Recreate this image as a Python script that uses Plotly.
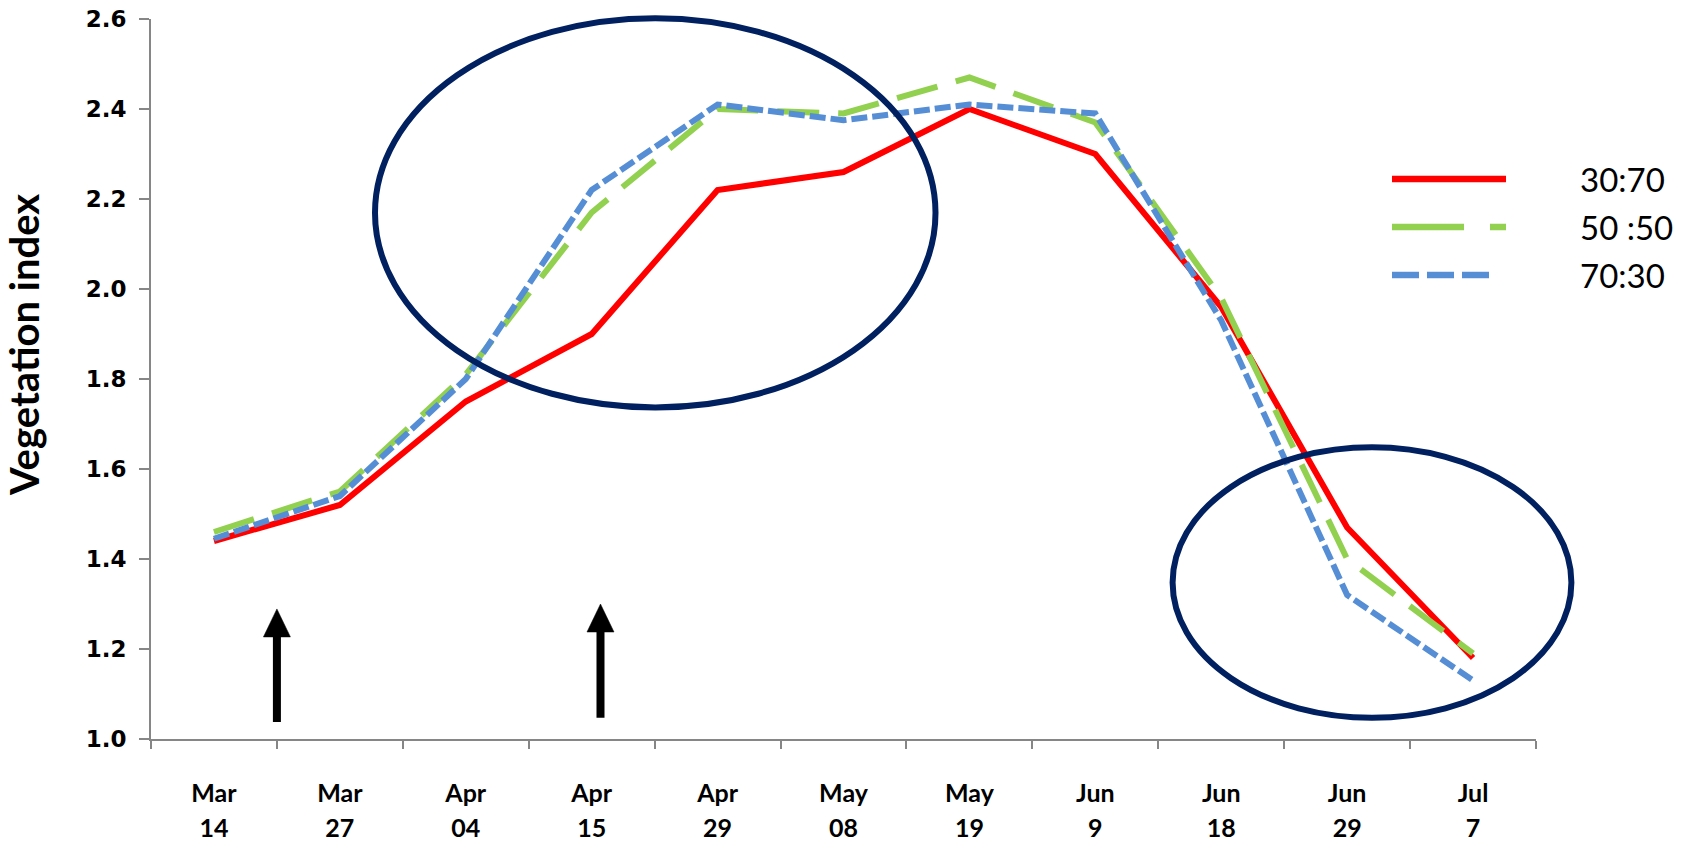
import plotly.graph_objects as go

# Sampling dates and vegetation index for three mixing ratios
dates = ["Mar 14", "Mar 27", "Apr 04", "Apr 15", "Apr 29", "May 08",
         "May 19", "Jun 9", "Jun 18", "Jun 29", "Jul 7"]
months = [d.split()[0] for d in dates]
days = [d.split()[1] for d in dates]

ratio_30_70 = [1.44, 1.52, 1.75, 1.90, 2.22, 2.26, 2.40, 2.30, 1.96, 1.47, 1.18]
ratio_50_50 = [1.46, 1.55, 1.81, 2.17, 2.40, 2.39, 2.47, 2.37, 1.98, 1.40, 1.19]
ratio_70_30 = [1.445, 1.54, 1.80, 2.22, 2.41, 2.375, 2.41, 2.39, 1.93, 1.32, 1.13]

series_names = ["30:70", "50 :50", "70:30"]
y_ticks = [1.0, 1.2, 1.4, 1.6, 1.8, 2.0, 2.2, 2.4, 2.6]

# Arrow markers: (category position, base value, tip value)
arrows = [(0.5, 1.038, 1.289), (3.07, 1.047, 1.300)]

# ---- layout geometry ----
W, H = 1690, 842
ML, MR, MT, MB = 151, 154, 19, 103
PW, PH = W - ML - MR, H - MT - MB
Y0, Y1 = 1.0, 2.6
NCAT = len(dates)

RED, GREEN, BLUE, NAVY = "#FF0000", "#92D050", "#558ED5", "#002060"
AXIS_GREY = "#868686"
LW = 6


def px_x(px):
    return (px - ML) / PW


def px_y(py):
    return (MT + PH - py) / PH


def cat_x(i):
    return (i + 0.5) / NCAT


def val_y(v):
    return (v - Y0) / (Y1 - Y0)


fig = go.Figure()

styles = [
    dict(color=RED, width=LW, dash="solid"),
    dict(color=GREEN, width=LW, dash="42px,19px"),
    dict(color=BLUE, width=LW, dash="16px,5px"),
]
for name, vals, st in zip(series_names, [ratio_30_70, ratio_50_50, ratio_70_30], styles):
    fig.add_trace(go.Scatter(x=dates, y=vals, name=name, mode="lines",
                             line=st, showlegend=False))

# Empty trace that carries the second (day-number) label row
fig.add_trace(go.Scatter(x=list(range(NCAT)), y=[None] * NCAT, xaxis="x2",
                         mode="lines", showlegend=False, hoverinfo="skip"))

shapes = []

# Highlight ellipses (pixel bounds of the outline centre line)
for (l, r, t, b) in [(375, 935.5, 18.3, 407.4), (1172.6, 1571.4, 447.3, 717.8)]:
    shapes.append(dict(type="circle", xref="paper", yref="paper",
                       x0=px_x(l), x1=px_x(r), y0=px_y(b), y1=px_y(t),
                       line=dict(color=NAVY, width=6), layer="above"))

# Upward arrows
HEAD_H, HEAD_W, SHAFT_W = 28, 27, 8
for (ci, v0, v1) in arrows:
    xc = cat_x(ci)
    yb = val_y(v0)
    yt = val_y(v1)
    yh = yt - HEAD_H / PH
    hw = HEAD_W / 2 / PW
    shapes.append(dict(type="line", xref="paper", yref="paper",
                       x0=xc, x1=xc, y0=yb, y1=yh + 1 / PH,
                       line=dict(color="black", width=SHAFT_W), layer="above"))
    shapes.append(dict(type="path", xref="paper", yref="paper",
                       path=f"M {xc - hw},{yh} L {xc + hw},{yh} L {xc},{yt} Z",
                       fillcolor="black", line=dict(color="black", width=0.5),
                       layer="above"))

# Legend drawn with long sample lines
legend_rows = [
    (series_names[0], 179, 1392, 1506, dict(color=RED, width=6.5, dash="solid")),
    (series_names[1], 227, 1392, 1506, dict(color=GREEN, width=6.5, dash="72px,26px")),
    (series_names[2], 275, 1392, 1491, dict(color=BLUE, width=6.5, dash="27px,8px")),
]
annotations = []
for (label, py, xa, xb, st) in legend_rows:
    shapes.append(dict(type="line", xref="paper", yref="paper",
                       x0=px_x(xa), x1=px_x(xb), y0=px_y(py), y1=px_y(py),
                       line=st, layer="above"))
    annotations.append(dict(text=label, xref="paper", yref="paper",
                            x=px_x(1578), y=px_y(py), xanchor="left", yanchor="middle",
                            showarrow=False,
                            font=dict(family="Lato", size=33, color="black")))

# Y axis title
annotations.append(dict(text="Vegetation index", xref="paper", yref="paper",
                        x=px_x(24), y=px_y(345), textangle=-90,
                        xanchor="center", yanchor="middle", showarrow=False,
                        font=dict(family="Lato", size=40, color="black", weight="bold")))

tick_font = dict(family="Lato", size=25, color="black", weight="bold")

fig.update_layout(
    width=W, height=H,
    margin=dict(l=ML, r=MR, t=MT, b=MB, autoexpand=False),
    paper_bgcolor="white", plot_bgcolor="white",
    shapes=shapes, annotations=annotations,
    showlegend=False,
    xaxis=dict(
        type="category", categoryorder="array", categoryarray=dates,
        range=[-0.5, NCAT - 0.5], tickson="boundaries",
        tickmode="array", tickvals=dates, ticktext=months,
        ticks="outside", ticklen=8, tickwidth=2, tickcolor=AXIS_GREY,
        showline=True, linecolor=AXIS_GREY, linewidth=2,
        showgrid=False, zeroline=False,
        tickfont=tick_font, ticklabelstandoff=31,
    ),
    xaxis2=dict(
        overlaying="x", anchor="y", side="bottom", type="linear",
        range=[-0.5, NCAT - 0.5], tickmode="array",
        tickvals=list(range(NCAT)), ticktext=days,
        ticks="", showline=False, showgrid=False, zeroline=False,
        tickfont=tick_font, ticklabelstandoff=72,
    ),
    yaxis=dict(
        range=[Y0, Y1], tickmode="array", tickvals=y_ticks, tickformat=".1f",
        ticks="outside", ticklen=10, tickwidth=2, tickcolor=AXIS_GREY,
        showline=True, linecolor=AXIS_GREY, linewidth=2,
        showgrid=False, zeroline=False,
        tickfont=dict(family="DejaVu Sans", size=23, color="black", weight="bold"),
        ticklabelstandoff=8,
    ),
)

fig.write_html("out.html")
